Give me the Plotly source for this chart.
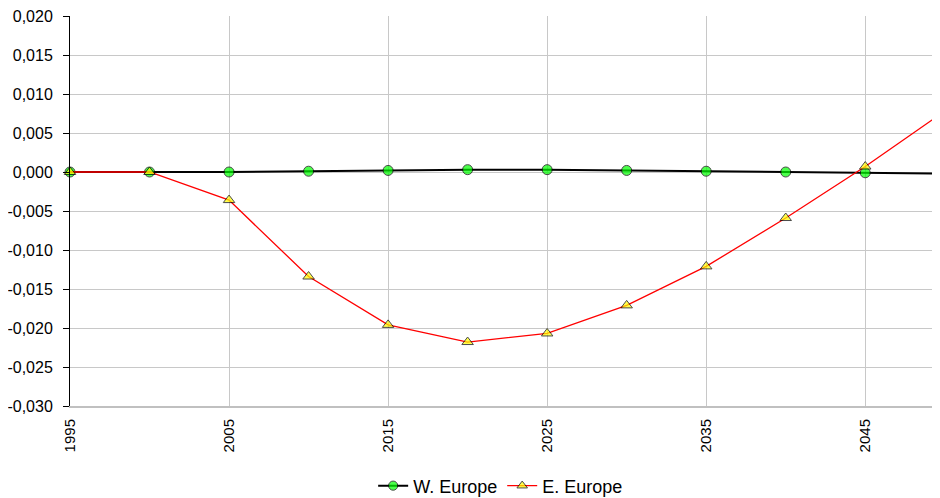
import plotly.graph_objects as go

years = [1995, 2000, 2005, 2010, 2015, 2020, 2025, 2030, 2035, 2040, 2045, 2050]
w_europe = [0.0, 0.0, 0.0, 0.0001, 0.0002, 0.0003, 0.0003, 0.0002, 0.0001, 0.0, -0.0001, -0.0002]
e_europe = [0.0, 0.0, -0.0036, -0.0134, -0.0196, -0.0218, -0.0207, -0.0171, -0.0121, -0.0059, 0.0007, 0.0078]

x_ticks = [1995, 2005, 2015, 2025, 2035, 2045]
y_ticks = [0.020, 0.015, 0.010, 0.005, 0.0, -0.005, -0.010, -0.015, -0.020, -0.025, -0.030]
y_labels = ["0,020", "0,015", "0,010", "0,005", "0,000", "-0,005", "-0,010",
            "-0,015", "-0,020", "-0,025", "-0,030"]

# last point sits just past the right edge, hide its marker like the original
n = len(years)
sizes_w = [10] * (n - 1) + [0]
sizes_e = [10] * (n - 1) + [0]

fig = go.Figure()
fig.add_trace(go.Scatter(
    x=years, y=w_europe, name="W. Europe", mode="lines+markers",
    line=dict(color="black", width=2),
    marker=dict(symbol="circle", size=sizes_w, color="#00ff00",
                line=dict(color="black", width=1)),
    cliponaxis=False))
fig.add_trace(go.Scatter(
    x=years, y=e_europe, name="E. Europe", mode="lines+markers",
    line=dict(color="#ff0000", width=1.3),
    marker=dict(symbol="triangle-up", size=sizes_e, color="#ffff00",
                line=dict(color="black", width=1)),
    cliponaxis=False))

# page body adds an 8px offset, so the figure is 8px smaller and margins compensate
fig.update_layout(
    width=932, height=490,
    margin=dict(l=62, r=0, t=8, b=92, autoexpand=False),
    paper_bgcolor="white", plot_bgcolor="white",
    font=dict(family="Liberation Sans, Arial", size=16, color="black"),
    showlegend=True,
    legend=dict(orientation="h", x=0.495, xanchor="center", y=-0.205, yanchor="middle",
                font=dict(size=18), itemwidth=30, tracegroupgap=0),
    xaxis=dict(range=[1995, 2049.7], tickvals=x_ticks, tickangle=-90,
               tickfont=dict(size=15), ticklabelstandoff=5,
               showgrid=True, gridcolor="#c8c8c8", gridwidth=1,
               showline=True, linecolor="#c0c0c0", linewidth=2,
               ticks="", zeroline=False, automargin=False),
    yaxis=dict(range=[-0.030, 0.020], tickvals=y_ticks, ticktext=y_labels,
               showgrid=True, gridcolor="#c8c8c8", gridwidth=1,
               showline=True, linecolor="black", linewidth=1,
               ticks="outside", ticklen=6, tickcolor="black", ticklabelstandoff=7,
               zeroline=False, automargin=False, ticklabeloverflow="allow"),
)

fig.write_html("out.html")
